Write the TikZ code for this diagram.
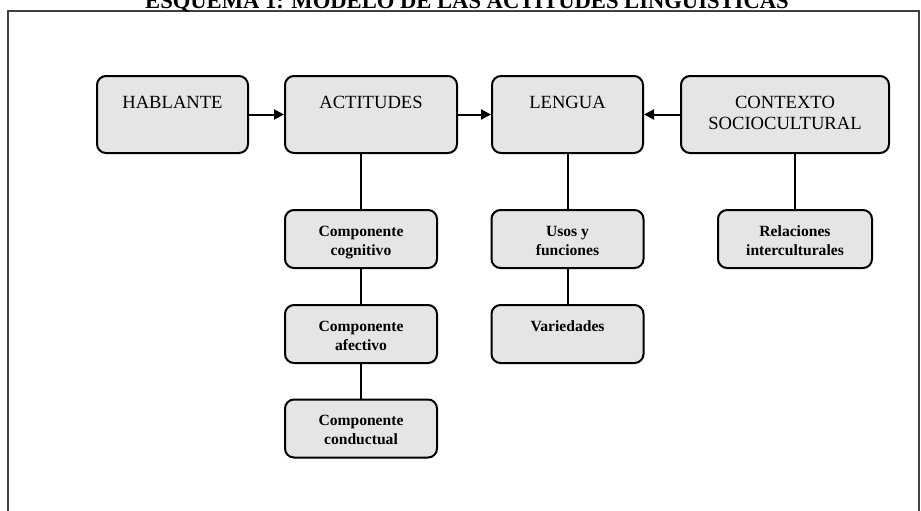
\documentclass[tikz,border=0pt]{standalone}
\usepackage{fontspec}
\setmainfont{Liberation Serif}
\usetikzlibrary{arrows.meta}
\tikzset{
  caja/.style={draw,line width=1pt,rounded corners=4.5pt,fill=black!10,
    align=center,inner xsep=2pt,inner ysep=0pt,minimum width=75.5pt,
    text height=16.2pt,text depth=22.3pt,font=\fontsize{9.3}{10.5}\selectfont},
  cajados/.style={caja,text height=26.7pt,text depth=11.8pt},
  subcaja/.style={draw,line width=1pt,rounded corners=4.5pt,fill=black!10,
    align=center,inner xsep=2pt,inner ysep=0pt,minimum width=76pt,
    text height=13.2pt,text depth=15.8pt,font=\bfseries\fontsize{7.8}{9.5}\selectfont},
  subdos/.style={subcaja,text height=22.7pt,text depth=6.3pt},
  flecha/.style={line width=1pt,-{Triangle[length=5pt,width=5pt]}},
  linea/.style={line width=1pt}
}
\begin{document}
\begin{tikzpicture}[x=0.5pt,y=-0.5pt]
  \useasboundingbox (0,0) rectangle (921,510);
  \draw[line width=1pt,black!75] (8,530)--(8,11)--(919,11)--(919,530);
  \node[anchor=base,font=\bfseries\fontsize{11.3}{13}\selectfont] (titulo) at (467,8) {ESQUEMA 1: MODELO DE LAS ACTITUDES LINGÜÍSTICAS};
  % fila superior
  \node[caja] (hab) at (172.5,114.5) {HABLANTE};
  \node[caja,minimum width=86pt] (act) at (371,114.5) {ACTITUDES};
  \node[caja] (len) at (567.5,114.5) {LENGUA};
  \node[cajados,minimum width=104pt] (ctx) at (785,114.5) {CONTEXTO\\SOCIOCULTURAL};
  % componentes
  \node[subdos] (cog) at (361,239) {Componente\\cognitivo};
  \node[subdos] (afe) at (361,334) {Componente\\afectivo};
  \node[subdos] (con) at (361,428.5) {Componente\\conductual};
  \node[subdos] (uso) at (567.5,239) {Usos y\\funciones};
  \node[subcaja] (var) at (567.5,334) {Variedades};
  \node[subdos,minimum width=77pt] (rel) at (795,239) {Relaciones\\interculturales};
  % conectores
  \draw[flecha] (hab.east) -- (act.west);
  \draw[flecha] (act.east) -- (len.west);
  \draw[flecha] (ctx.west) -- (len.east);
  \draw[linea] (cog.north) -- (cog.north |- act.south);
  \draw[linea] (cog) -- (afe);
  \draw[linea] (afe) -- (con);
  \draw[linea] (uso) -- (len);
  \draw[linea] (uso) -- (var);
  \draw[linea] (rel.north) -- (rel.north |- ctx.south);
\end{tikzpicture}
\end{document}
